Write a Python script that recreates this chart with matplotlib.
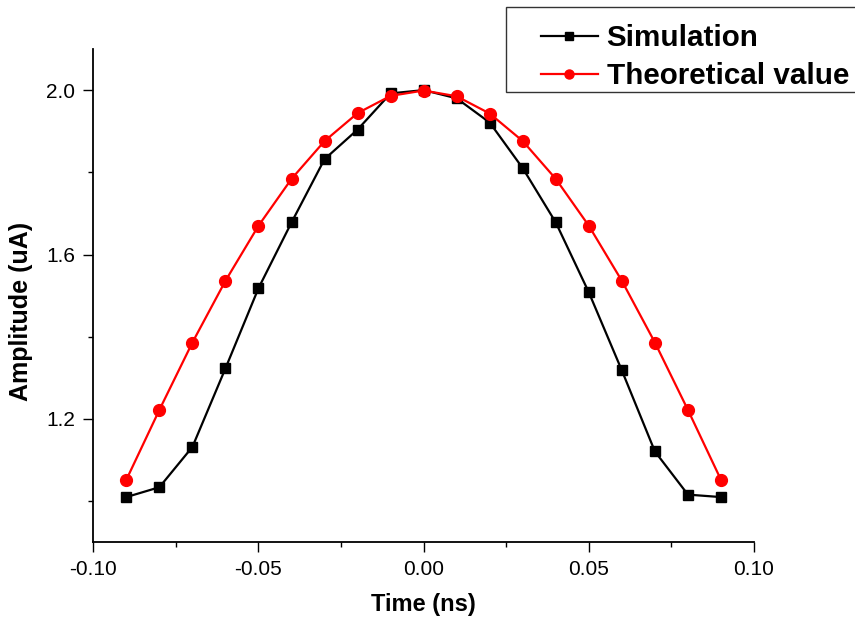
import matplotlib
matplotlib.use("Agg")
import matplotlib.pyplot as plt
from matplotlib.ticker import MultipleLocator, FormatStrFormatter
from matplotlib.legend_handler import HandlerLine2D
from matplotlib.lines import Line2D
from matplotlib.patches import Rectangle

plt.rcParams['font.family'] = ['Liberation Sans', 'DejaVu Sans']

time_ns = [-0.09, -0.08, -0.07, -0.06, -0.05, -0.04, -0.03, -0.02, -0.01, 0.00,
           0.01, 0.02, 0.03, 0.04, 0.05, 0.06, 0.07, 0.08, 0.09]
simulation = [1.010, 1.034, 1.132, 1.323, 1.518, 1.678, 1.832, 1.904, 1.992, 2.000,
              1.980, 1.921, 1.810, 1.678, 1.508, 1.318, 1.121, 1.016, 1.010]
theoretical = [1.052, 1.222, 1.386, 1.536, 1.670, 1.784, 1.876, 1.944, 1.986, 1.999,
               1.985, 1.943, 1.876, 1.784, 1.670, 1.536, 1.386, 1.222, 1.052]

W, H = 855, 626
fig = plt.figure(figsize=(W/100, H/100), dpi=100)
ax = fig.add_axes([93.3/W, 1-542.3/H, (754-93.3)/W, (542.3-49)/H])

l1, = ax.plot(time_ns, simulation, color='black', lw=1.6, marker='s', ms=7.5,
              label='Simulation')
l2, = ax.plot(time_ns, theoretical, color='red', lw=1.6, marker='o', ms=8.5,
              label='Theoretical value')

ax.set_xlim(-0.10, 0.10)
ax.set_ylim(0.9, 2.1)
ax.xaxis.set_major_locator(MultipleLocator(0.05))
ax.xaxis.set_minor_locator(MultipleLocator(0.025))
ax.set_yticks([1.2, 1.6, 2.0])
ax.set_yticks([1.0, 1.4, 1.8], minor=True)
ax.xaxis.set_major_formatter(FormatStrFormatter('%.2f'))
ax.yaxis.set_major_formatter(FormatStrFormatter('%.1f'))

for s in ['top', 'right']:
    ax.spines[s].set_visible(False)
for s in ['left', 'bottom']:
    ax.spines[s].set_linewidth(1.3)

ax.tick_params(which='major', direction='out', length=7, width=1.0, labelsize=15, pad=6)
ax.tick_params(which='minor', direction='out', length=3.6, width=1.0)

ax.set_xlabel('Time (ns)', fontsize=17, fontweight='bold', labelpad=10)
ax.set_ylabel('Amplitude (uA)', fontsize=18, fontweight='bold')
ax.yaxis.set_label_coords(-0.091, 0.4675)

# legend frame (extends past the right edge of the figure, as in the original)
frame = Rectangle((506/W, 1-92/H), 2.0, 85/H, transform=fig.transFigure,
                  facecolor='white', edgecolor='#333333', linewidth=1.0, zorder=1)
fig.patches.append(frame)

fs = 21.3
pad_handler = HandlerLine2D(xpad=0.98)
leg = fig.legend(handles=[l1, l2], loc='upper left', bbox_to_anchor=(506/W, 1-18/H),
                 prop={'weight': 'bold', 'size': fs},
                 frameon=False, handlelength=2.9, handletextpad=0.3,
                 borderpad=0.2, labelspacing=0.35, borderaxespad=0,
                 handler_map={Line2D: pad_handler})
leg.set_zorder(5)
hs = leg.legend_handles
hs[0].set_markersize(5.5)
hs[1].set_markersize(6.5)

fig.savefig('out.png', dpi=100)
